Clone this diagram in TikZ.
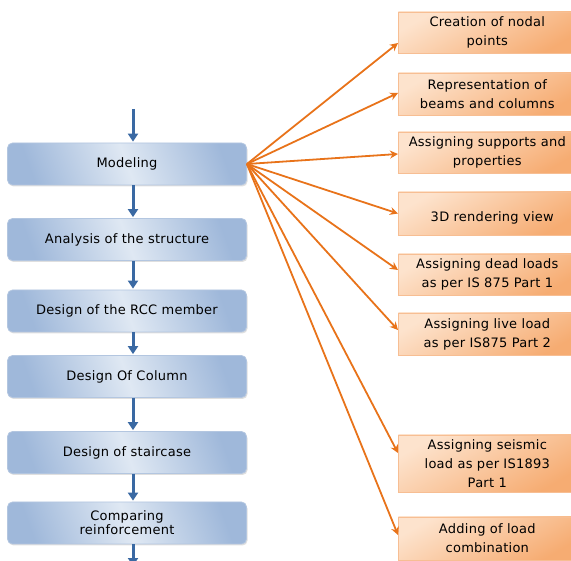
\documentclass[tikz,border=0pt]{standalone}
\usepackage{fontspec}
\setmainfont{DejaVu Sans}[LetterSpace=2]
\usetikzlibrary{shadows,arrows.meta,calc}
\definecolor{bluearrow}{HTML}{3A69A3}
\definecolor{blueborder}{HTML}{B3C6E0}
\definecolor{bluedark}{HTML}{9FB8DA}
\definecolor{bluelight}{HTML}{DFE8F3}
\definecolor{orangeline}{HTML}{E8731A}
\definecolor{orangeborder}{HTML}{F7BE93}
\definecolor{orangelight}{HTML}{FDE3CD}
\definecolor{orangedark}{HTML}{F6AC72}
\begin{document}
\begin{tikzpicture}[x=1pt,y=-1pt,
  leftbox/.style={rounded corners=5pt, draw=blueborder, line width=0.8pt,
    top color=bluedark, bottom color=bluedark, middle color=bluelight, shading angle=-70,
    minimum width=239pt, minimum height=42pt, align=center, font=\fontsize{13}{14}\selectfont,
    drop shadow={opacity=0.25, shadow xshift=1pt, shadow yshift=-1.5pt}},
  rightbox/.style={draw=orangeborder, line width=0.6pt,
    top color=orangelight, bottom color=orangedark, shading angle=30,
    minimum width=178pt, anchor=west, align=center, font=\fontsize{13}{19}\selectfont,
    drop shadow={opacity=0.3, shadow xshift=1.5pt, shadow yshift=-1.5pt}},
  bluearr/.style={draw=bluearrow, line width=3pt, -{Triangle[width=10pt,length=8pt]}},
  orangearr/.style={draw=orangeline, line width=1.8pt, -{Stealth[width=8pt,length=8pt]}}
]
\useasboundingbox (0,0) rectangle (571,561);
\clip (0,0) rectangle (571,561);

% left column
\node[leftbox] (mod) at (127,164) {Modeling};
\node[leftbox] (ana) at (127,239.5) {Analysis of the structure};
\node[leftbox] (rcc) at (127,311) {Design of the RCC member};
\node[leftbox] (col) at (127,376.5) {Design Of Column};
\node[leftbox] (sta) at (127,452.5) {Design of staircase};
\node[leftbox] (cmp) at (127,523) {Comparing\\reinforcement};

\coordinate (top) at (133,109);
\coordinate (bot) at (133,566);
\draw[bluearr] (top) -- ([yshift=1pt]top |- mod.north);
\draw[bluearr] (mod.south -| top) -- ([yshift=1pt]top |- ana.north);
\draw[bluearr] (ana.south -| top) -- ([yshift=1pt]top |- rcc.north);
\draw[bluearr] (rcc.south -| top) -- ([yshift=1pt]top |- col.north);
\draw[bluearr] (col.south -| top) -- ([yshift=1pt]top |- sta.north);
\draw[bluearr] (sta.south -| top) -- ([yshift=1pt]top |- cmp.north);
\draw[bluearr] (cmp.south -| top) -- (bot);

% right column
\node[rightbox, minimum height=41pt] (r1) at (398,32.5) {Creation of nodal\\points};
\node[rightbox, minimum height=42pt] (r2) at (398,94) {Representation of\\beams and columns};
\node[rightbox, minimum height=41pt] (r3) at (398,152.5) {Assigning supports and\\properties};
\node[rightbox, minimum height=43pt] (r4) at (398,213.5) {\mbox{}\\\hspace*{10pt}3D rendering view};
\node[rightbox, minimum height=41pt] (r5) at (398,274.5) {Assigning dead loads\\as per IS 875 Part 1};
\node[rightbox, minimum height=42pt] (r6) at (398,334) {Assigning live load\\as per IS875 Part 2};
\node[rightbox, minimum height=57pt] (r7) at (398,463.5) {Assigning seismic\\load as per IS1893\\Part 1};
\node[rightbox, minimum height=43pt] (r8) at (398,538.5) {Adding of load\\combination};

\draw[orangearr] (mod.east) -- ([yshift=-10.5pt]r1.west);
\draw[orangearr] (mod.east) -- ([yshift=1pt]r2.west);
\draw[orangearr] (mod.east) -- ([yshift=-1.5pt]r3.west);
\draw[orangearr] (mod.east) -- ([yshift=0pt]r4.west);
\draw[orangearr] (mod.east) -- ([yshift=4.5pt]r5.west);
\draw[orangearr] (mod.east) -- ([yshift=4pt]r6.west);
\draw[orangearr] (mod.east) -- ([yshift=10.5pt]r7.west);
\draw[orangearr] (mod.east) -- ([yshift=3.5pt]r8.west);
\end{tikzpicture}
\end{document}
